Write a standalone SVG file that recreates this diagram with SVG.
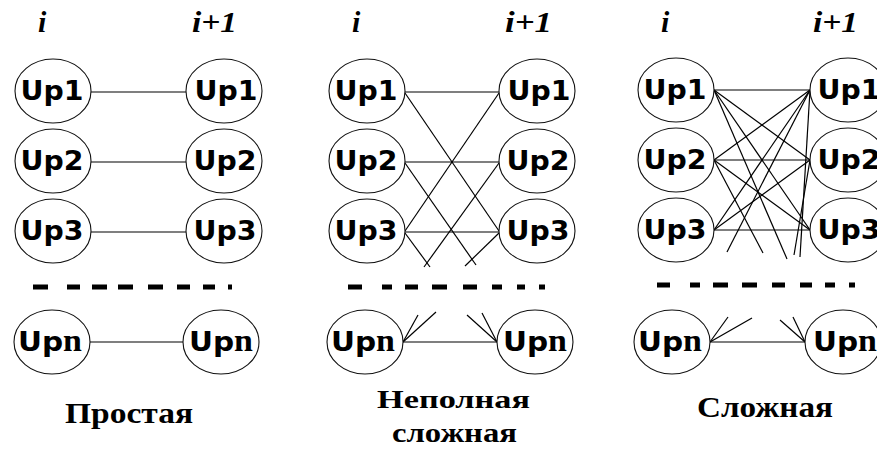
<svg xmlns="http://www.w3.org/2000/svg" width="877" height="449" viewBox="0 0 877 449">
<style>
.nd ellipse{fill:#fff;stroke:#111;stroke-width:1.1}
.nd text{font-family:"DejaVu Sans","Liberation Sans",sans-serif;font-weight:bold;font-size:27px;text-anchor:middle;fill:#000}
.nd .n{font-family:"Liberation Serif",serif;font-size:31px}
.con line{stroke:#000;stroke-width:1.2}
.dash{stroke:#000;stroke-width:5;fill:none}
.hdr{font-family:"Liberation Serif",serif;font-style:italic;font-weight:bold;font-size:30px;fill:#000}
.cap{font-family:"Liberation Serif",serif;font-weight:bold;fill:#000}
</style>
<rect width="877" height="449" fill="#fff"/>
<!-- headers -->
<text class="hdr" x="38" y="32">i</text>
<text class="hdr" x="192" y="32" textLength="45" lengthAdjust="spacingAndGlyphs">i+1</text>
<text class="hdr" x="352" y="32">i</text>
<text class="hdr" x="505" y="32" textLength="47" lengthAdjust="spacingAndGlyphs">i+1</text>
<text class="hdr" x="661" y="32">i</text>
<text class="hdr" x="813" y="32" textLength="45" lengthAdjust="spacingAndGlyphs">i+1</text>
<!-- connectors -->
<g id="connectors" class="con">
  <line x1="91" y1="92" x2="186" y2="92"/>
  <line x1="91" y1="162" x2="186" y2="162"/>
  <line x1="91" y1="232" x2="186" y2="232"/>
  <line x1="90" y1="342" x2="183" y2="342"/>
  <line x1="405" y1="92" x2="499" y2="92"/>
  <line x1="405" y1="162" x2="499" y2="162"/>
  <line x1="405" y1="232" x2="499" y2="232"/>
  <line x1="405" y1="93" x2="499" y2="231"/>
  <line x1="499" y1="93" x2="405" y2="231"/>
  <line x1="405" y1="163" x2="476" y2="265"/>
  <line x1="499" y1="163" x2="424" y2="267"/>
  <line x1="405" y1="233" x2="430" y2="267"/>
  <line x1="499" y1="233" x2="465" y2="266"/>
  <line x1="403" y1="342" x2="497" y2="342"/>
  <line x1="403" y1="342" x2="418" y2="315"/>
  <line x1="403" y1="342" x2="436" y2="312"/>
  <line x1="497" y1="342" x2="467" y2="315"/>
  <line x1="497" y1="342" x2="482" y2="313"/>
  <line x1="714" y1="90" x2="810" y2="90"/>
  <line x1="714" y1="90" x2="810" y2="160"/>
  <line x1="714" y1="90" x2="810" y2="230"/>
  <line x1="714" y1="160" x2="810" y2="90"/>
  <line x1="714" y1="160" x2="810" y2="160"/>
  <line x1="714" y1="160" x2="810" y2="230"/>
  <line x1="714" y1="230" x2="810" y2="90"/>
  <line x1="714" y1="230" x2="810" y2="160"/>
  <line x1="714" y1="230" x2="810" y2="230"/>
  <line x1="714" y1="90" x2="787" y2="259"/>
  <line x1="714" y1="160" x2="763" y2="253"/>
  <line x1="810" y1="90" x2="727" y2="252"/>
  <line x1="810" y1="90" x2="800" y2="257"/>
  <line x1="810" y1="160" x2="794" y2="255"/>
  <line x1="710" y1="342" x2="805" y2="342"/>
  <line x1="710" y1="342" x2="728" y2="317"/>
  <line x1="710" y1="342" x2="752" y2="318"/>
  <line x1="805" y1="342" x2="780" y2="320"/>
  <line x1="805" y1="342" x2="793" y2="317"/>
</g>
<!-- ellipsis dashes -->
<path class="dash" d="M33 287h15M67 287h13M92 287h15M118 287h15M148 287h15M177 287h13M203 287h12M228 287h4"/>
<path class="dash" d="M348 287h14M382 287h10M405 287h13M432 287h15M463 287h14M492 287h10M517 287h8M539 287h6"/>
<path class="dash" d="M657 285h13M690 285h10M713 285h15M742 285h15M772 285h13M800 285h12M825 285h10M849 285h6"/>
<!-- nodes: simple -->
<g id="s-l1" class="nd"><ellipse cx="53" cy="91" rx="38" ry="32"/><text x="52" y="100" textLength="63" lengthAdjust="spacingAndGlyphs">Up1</text></g>
<g id="s-l2" class="nd"><ellipse cx="53" cy="161" rx="38" ry="32"/><text x="52" y="170" textLength="63" lengthAdjust="spacingAndGlyphs">Up2</text></g>
<g id="s-l3" class="nd"><ellipse cx="53" cy="231" rx="38" ry="32"/><text x="52" y="240" textLength="63" lengthAdjust="spacingAndGlyphs">Up3</text></g>
<g id="s-ln" class="nd"><ellipse cx="52" cy="342" rx="38" ry="32"/><text x="50" y="351" textLength="64" lengthAdjust="spacingAndGlyphs">Up<tspan class="n">n</tspan></text></g>
<g id="s-r1" class="nd"><ellipse cx="224" cy="91" rx="38" ry="32"/><text x="226" y="100" textLength="63" lengthAdjust="spacingAndGlyphs">Up1</text></g>
<g id="s-r2" class="nd"><ellipse cx="224" cy="161" rx="38" ry="32"/><text x="225" y="170" textLength="63" lengthAdjust="spacingAndGlyphs">Up2</text></g>
<g id="s-r3" class="nd"><ellipse cx="224" cy="231" rx="38" ry="32"/><text x="225" y="240" textLength="63" lengthAdjust="spacingAndGlyphs">Up3</text></g>
<g id="s-rn" class="nd"><ellipse cx="221" cy="342" rx="38" ry="32"/><text x="221" y="351" textLength="64" lengthAdjust="spacingAndGlyphs">Up<tspan class="n">n</tspan></text></g>
<!-- nodes: incomplete -->
<g id="m-l1" class="nd"><ellipse cx="367" cy="91" rx="38" ry="32"/><text x="366" y="100" textLength="63" lengthAdjust="spacingAndGlyphs">Up1</text></g>
<g id="m-l2" class="nd"><ellipse cx="367" cy="161" rx="38" ry="32"/><text x="366" y="170" textLength="63" lengthAdjust="spacingAndGlyphs">Up2</text></g>
<g id="m-l3" class="nd"><ellipse cx="367" cy="231" rx="38" ry="32"/><text x="366" y="240" textLength="63" lengthAdjust="spacingAndGlyphs">Up3</text></g>
<g id="m-ln" class="nd"><ellipse cx="365" cy="342" rx="38" ry="32"/><text x="363" y="351" textLength="64" lengthAdjust="spacingAndGlyphs">Up<tspan class="n">n</tspan></text></g>
<g id="m-r1" class="nd"><ellipse cx="537" cy="91" rx="38" ry="32"/><text x="539" y="100" textLength="63" lengthAdjust="spacingAndGlyphs">Up1</text></g>
<g id="m-r2" class="nd"><ellipse cx="537" cy="161" rx="38" ry="32"/><text x="538" y="170" textLength="63" lengthAdjust="spacingAndGlyphs">Up2</text></g>
<g id="m-r3" class="nd"><ellipse cx="537" cy="231" rx="38" ry="32"/><text x="538" y="240" textLength="63" lengthAdjust="spacingAndGlyphs">Up3</text></g>
<g id="m-rn" class="nd"><ellipse cx="535" cy="342" rx="38" ry="32"/><text x="535" y="351" textLength="64" lengthAdjust="spacingAndGlyphs">Up<tspan class="n">n</tspan></text></g>
<!-- nodes: complete -->
<g id="c-l1" class="nd"><ellipse cx="676" cy="90" rx="38" ry="32"/><text x="675" y="99" textLength="63" lengthAdjust="spacingAndGlyphs">Up1</text></g>
<g id="c-l2" class="nd"><ellipse cx="676" cy="160" rx="38" ry="32"/><text x="675" y="169" textLength="63" lengthAdjust="spacingAndGlyphs">Up2</text></g>
<g id="c-l3" class="nd"><ellipse cx="676" cy="230" rx="38" ry="32"/><text x="675" y="239" textLength="63" lengthAdjust="spacingAndGlyphs">Up3</text></g>
<g id="c-ln" class="nd"><ellipse cx="672" cy="342" rx="38" ry="32"/><text x="670" y="351" textLength="64" lengthAdjust="spacingAndGlyphs">Up<tspan class="n">n</tspan></text></g>
<g id="c-r1" class="nd"><ellipse cx="848" cy="90" rx="38" ry="32"/><text x="849" y="99" textLength="63" lengthAdjust="spacingAndGlyphs">Up1</text></g>
<g id="c-r2" class="nd"><ellipse cx="848" cy="160" rx="38" ry="32"/><text x="849" y="169" textLength="63" lengthAdjust="spacingAndGlyphs">Up2</text></g>
<g id="c-r3" class="nd"><ellipse cx="848" cy="230" rx="38" ry="32"/><text x="849" y="239" textLength="63" lengthAdjust="spacingAndGlyphs">Up3</text></g>
<g id="c-rn" class="nd"><ellipse cx="843" cy="342" rx="38" ry="32"/><text x="845" y="351" textLength="64" lengthAdjust="spacingAndGlyphs">Up<tspan class="n">n</tspan></text></g>
<!-- captions -->
<text class="cap" x="65" y="423" font-size="30" textLength="128" lengthAdjust="spacingAndGlyphs">Простая</text>
<text class="cap" x="377" y="408" font-size="26" textLength="153" lengthAdjust="spacingAndGlyphs">Неполная</text>
<text class="cap" x="392" y="442" font-size="27" textLength="125" lengthAdjust="spacingAndGlyphs">сложная</text>
<text class="cap" x="697" y="417" font-size="29" textLength="136" lengthAdjust="spacingAndGlyphs">Сложная</text>
</svg>
